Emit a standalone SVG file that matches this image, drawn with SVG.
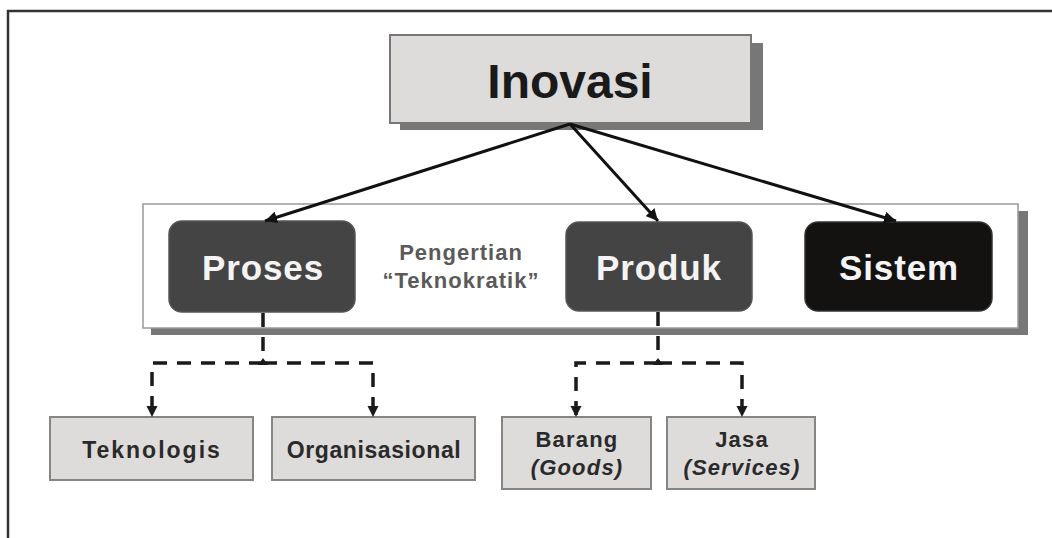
<svg xmlns="http://www.w3.org/2000/svg" width="1052" height="538" viewBox="0 0 1052 538">
<defs>
<marker id="ah" viewBox="0 0 10 10" refX="10" refY="5" markerWidth="4" markerHeight="4" markerUnits="strokeWidth" orient="auto">
<path d="M0,0 L10,5 L0,10 Z" fill="#111"/>
</marker>
<marker id="dh" viewBox="0 0 10 10" refX="10" refY="5" markerWidth="3.2" markerHeight="3.2" markerUnits="strokeWidth" orient="auto">
<path d="M0,0 L10,5 L0,10 Z" fill="#1a1a1a"/>
</marker>
</defs>
<style>
.frame{stroke:#333;stroke-width:2.5;fill:none}
.shadow{fill:#777}
.top{fill:#dddcdb;stroke:#777;stroke-width:2}
.cont{fill:#fff;stroke:#999;stroke-width:1.5}
.dark{fill:#444;stroke:#555;stroke-width:1.5}
.black{fill:#141210;stroke:#333;stroke-width:1.5}
.leaf{fill:#dddcdb;stroke:#858585;stroke-width:2}
.t{font-family:"Liberation Sans",Arial,sans-serif;font-weight:bold;text-anchor:middle}
.big{font-size:48px;fill:#1a1a1a}
.mid{font-size:35px;fill:#f4f4f4;letter-spacing:0.9px}
.note{font-size:22px;fill:#5a5a5a;letter-spacing:1px}
.leaft{font-size:23px;fill:#2a2a2a}
.small{font-size:22px;fill:#2a2a2a;letter-spacing:1.2px}
.it{font-style:italic}
.solid{stroke:#111;stroke-width:3;fill:none}
.dash{stroke:#1a1a1a;stroke-width:3.5;fill:none;stroke-dasharray:14 10}
</style>
<rect width="1052" height="538" fill="#fff"/>
<path class="frame" d="M8,538 L8,11 L1052,11"/>

<g id="container">
<rect class="shadow" x="151" y="211" width="877" height="124"/>
<rect class="cont" x="143" y="204" width="875" height="124"/>
<text class="t note" x="461" y="260">Pengertian</text>
<text class="t note" x="461" y="288">“Teknokratik”</text>
</g>

<g id="inovasi">
<rect class="shadow" x="400" y="43" width="363" height="87"/>
<rect class="top" x="390" y="35" width="361" height="88"/>
<text class="t big" x="570" y="98">Inovasi</text>
</g>

<g id="proses">
<rect class="dark" x="169" y="221" width="186" height="91" rx="13"/>
<text class="t mid" x="263" y="280">Proses</text>
</g>
<g id="produk">
<rect class="dark" x="566" y="222" width="186" height="89" rx="13"/>
<text class="t mid" x="659" y="280">Produk</text>
</g>
<g id="sistem">
<rect class="black" x="805" y="222" width="187" height="89" rx="13"/>
<text class="t mid" x="899" y="280">Sistem</text>
</g>

<g id="teknologis">
<rect class="leaf" x="50" y="417" width="203" height="63"/>
<text class="t leaft" x="152" y="458" style="letter-spacing:2px">Teknologis</text>
</g>
<g id="organisasional">
<rect class="leaf" x="272" y="417" width="203" height="63"/>
<text class="t leaft" x="374" y="458" style="letter-spacing:0.6px">Organisasional</text>
</g>
<g id="barang">
<rect class="leaf" x="502" y="417" width="149" height="72"/>
<text class="t small" x="577" y="447">Barang</text>
<text class="t small it" x="577" y="475">(Goods)</text>
</g>
<g id="jasa">
<rect class="leaf" x="667" y="417" width="148" height="72"/>
<text class="t small" x="742" y="447">Jasa</text>
<text class="t small it" x="742" y="475">(Services)</text>
</g>

<g id="connectors">
<path class="solid" d="M570,124 L265,221" marker-end="url(#ah)"/>
<path class="solid" d="M570,124 L658,221" marker-end="url(#ah)"/>
<path class="solid" d="M570,124 L896,221" marker-end="url(#ah)"/>
<path class="dash" d="M263,313 L263,363"/>
<path class="dash" d="M263,363 L152,363 L152,417" marker-end="url(#dh)"/>
<path class="dash" d="M263,363 L373,363 L373,417" marker-end="url(#dh)"/>
<path d="M258,365 L263,358 L268,365 Z" fill="#1a1a1a"/>
<path class="dash" d="M658,312 L658,363"/>
<path class="dash" d="M658,363 L576,363 L576,417" marker-end="url(#dh)"/>
<path class="dash" d="M658,363 L742,363 L742,417" marker-end="url(#dh)"/>
<path d="M653,365 L658,358 L663,365 Z" fill="#1a1a1a"/>
</g>
</svg>
